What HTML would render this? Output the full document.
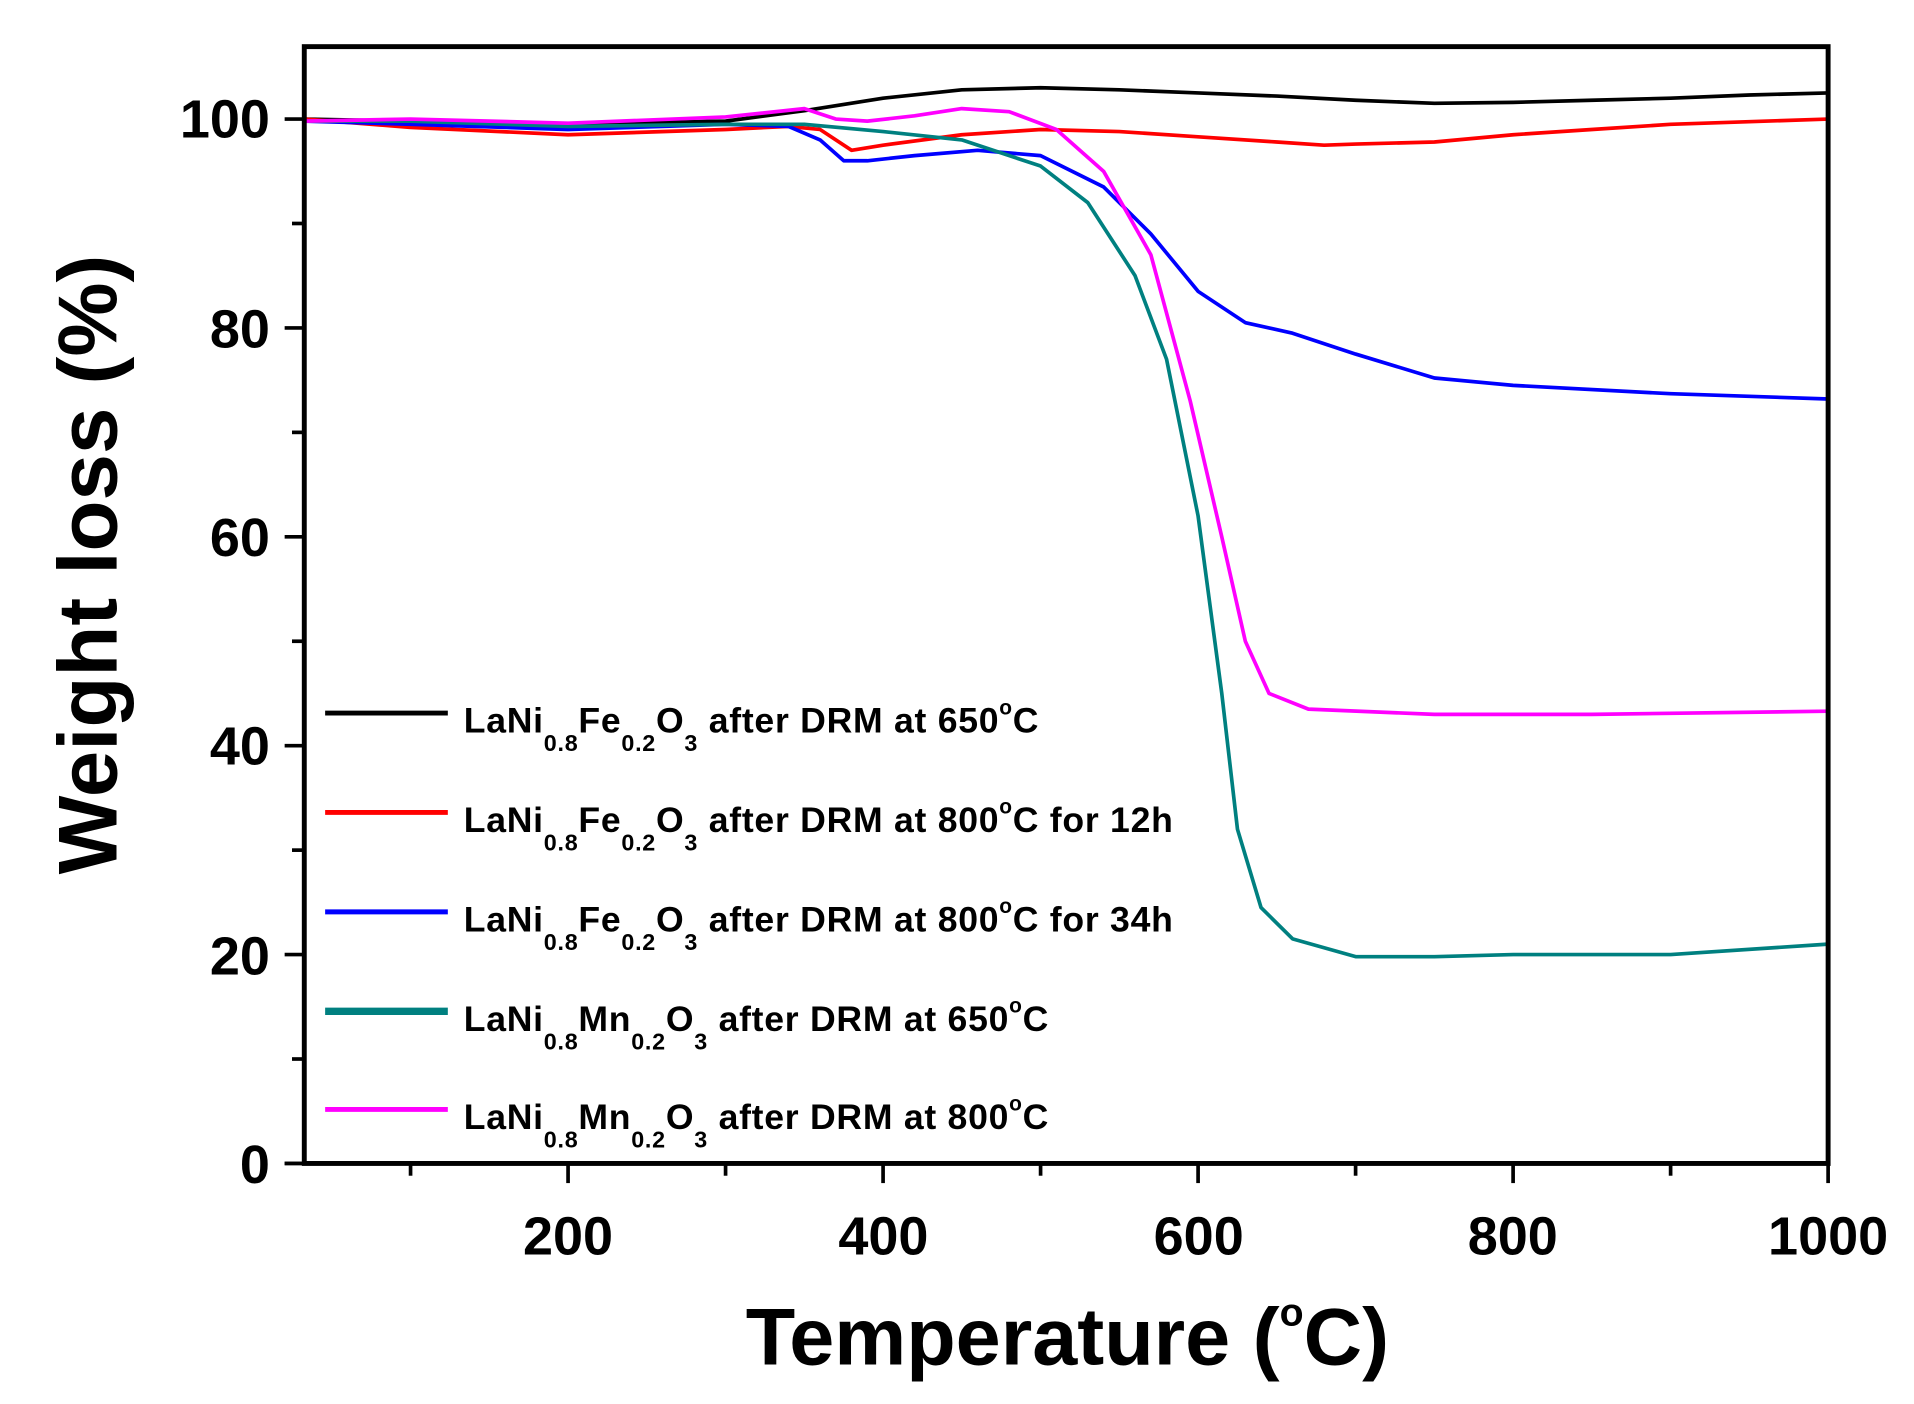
<!DOCTYPE html>
<html><head><meta charset="utf-8"><style>html,body{margin:0;padding:0;background:#fff}svg{display:block}</style></head>
<body>
<svg width="1914" height="1404" viewBox="0 0 1560 1144" preserveAspectRatio="none" xmlns="http://www.w3.org/2000/svg" font-family="Liberation Sans, sans-serif" font-weight="bold">
<rect width="1560" height="1144" fill="#fff"/>
<g id="curves" fill="none" stroke-width="3" stroke-linejoin="round"></g>
<rect x="248" y="38" width="1242" height="910" fill="none" stroke="#000" stroke-width="4"/>
<g id="ticks" stroke="#000" stroke-width="3"></g>
<g font-size="44" text-anchor="end">
<text x="220" y="112">100</text><text x="220" y="283">80</text><text x="220" y="453">60</text><text x="220" y="623">40</text><text x="220" y="794">20</text><text x="220" y="964">0</text>
</g>
<g font-size="44" text-anchor="middle">
<text x="463" y="1022">200</text><text x="720" y="1022">400</text><text x="977" y="1022">600</text><text x="1233" y="1022">800</text><text x="1490" y="1022">1000</text>
</g>
<text x="870" y="1112" font-size="66" text-anchor="middle">Temperature (<tspan font-size="32" dy="-32">o</tspan><tspan dy="32">C)</tspan></text>
<text transform="translate(95,460) rotate(-90)" font-size="68" text-anchor="middle">Weight loss (%)</text>
<g font-size="29" letter-spacing="0.6">
<line x1="265" x2="365" y1="581" y2="581" stroke="#000" stroke-width="4"/>
<text x="378" y="597">LaNi<tspan font-size="19" dy="15">0.8</tspan><tspan dy="-15">Fe</tspan><tspan font-size="19" dy="15">0.2</tspan><tspan dy="-15">O</tspan><tspan font-size="19" dy="15">3</tspan><tspan dy="-15"> after DRM at 650</tspan><tspan font-size="17" dy="-15">o</tspan><tspan dy="15">C</tspan></text>
<line x1="265" x2="365" y1="662" y2="662" stroke="#f00" stroke-width="4"/>
<text x="378" y="678">LaNi<tspan font-size="19" dy="15">0.8</tspan><tspan dy="-15">Fe</tspan><tspan font-size="19" dy="15">0.2</tspan><tspan dy="-15">O</tspan><tspan font-size="19" dy="15">3</tspan><tspan dy="-15"> after DRM at 800</tspan><tspan font-size="17" dy="-15">o</tspan><tspan dy="15">C for 12h</tspan></text>
<line x1="265" x2="365" y1="743" y2="743" stroke="#00f" stroke-width="4"/>
<text x="378" y="759">LaNi<tspan font-size="19" dy="15">0.8</tspan><tspan dy="-15">Fe</tspan><tspan font-size="19" dy="15">0.2</tspan><tspan dy="-15">O</tspan><tspan font-size="19" dy="15">3</tspan><tspan dy="-15"> after DRM at 800</tspan><tspan font-size="17" dy="-15">o</tspan><tspan dy="15">C for 34h</tspan></text>
<line x1="265" x2="365" y1="824" y2="824" stroke="#008080" stroke-width="6"/>
<text x="378" y="840">LaNi<tspan font-size="19" dy="15">0.8</tspan><tspan dy="-15">Mn</tspan><tspan font-size="19" dy="15">0.2</tspan><tspan dy="-15">O</tspan><tspan font-size="19" dy="15">3</tspan><tspan dy="-15"> after DRM at 650</tspan><tspan font-size="17" dy="-15">o</tspan><tspan dy="15">C</tspan></text>
<line x1="265" x2="365" y1="904" y2="904" stroke="#f0f" stroke-width="4"/>
<text x="378" y="920">LaNi<tspan font-size="19" dy="15">0.8</tspan><tspan dy="-15">Mn</tspan><tspan font-size="19" dy="15">0.2</tspan><tspan dy="-15">O</tspan><tspan font-size="19" dy="15">3</tspan><tspan dy="-15"> after DRM at 800</tspan><tspan font-size="17" dy="-15">o</tspan><tspan dy="15">C</tspan></text>
</g>
<script>
const X=t=>463+(t-200)*1.28375, Y=v=>948-v*8.51;
const S=[
["#000",[[33,100],[100,99.8],[200,99.5],[300,99.8],[350,100.8],[400,102],[450,102.8],[500,103],[550,102.8],[600,102.5],[650,102.2],[700,101.8],[750,101.5],[800,101.6],[850,101.8],[900,102],[950,102.3],[1000,102.5]]],
["#f00",[[33,100],[100,99.2],[200,98.5],[300,99],[340,99.3],[360,99],[380,97],[400,97.5],[450,98.5],[500,99],[550,98.8],[600,98.3],[650,97.8],[680,97.5],[700,97.6],[750,97.8],[800,98.5],[850,99],[900,99.5],[1000,100]]],
["#00f",[[33,99.8],[100,99.5],[200,99],[300,99.5],[340,99.3],[360,98],[375,96],[390,96],[420,96.5],[460,97],[500,96.5],[540,93.5],[570,89],[600,83.5],[630,80.5],[660,79.5],[700,77.5],[750,75.2],[800,74.5],[900,73.7],[1000,73.2]]],
["#008080",[[33,99.8],[100,99.8],[200,99.3],[300,99.5],[350,99.5],[400,98.8],[450,98],[500,95.5],[530,92],[560,85],[580,77],[600,62],[615,45],[625,32],[640,24.5],[660,21.5],[700,19.8],[750,19.8],[800,20],[900,20],[1000,21]]],
["#f0f",[[33,99.8],[100,100],[200,99.6],[300,100.2],[350,101],[370,100],[390,99.8],[420,100.3],[450,101],[480,100.7],[510,99],[540,95],[570,87],[595,73],[615,60],[630,50],[645,45],[670,43.5],[750,43],[850,43],[1000,43.3]]]];
const ns="http://www.w3.org/2000/svg";
const g=document.getElementById('curves');
S.forEach(([c,p])=>{const e=document.createElementNS(ns,'polyline');e.setAttribute('points',p.map(q=>X(q[0]).toFixed(1)+','+Y(q[1]).toFixed(1)).join(' '));e.setAttribute('stroke',c);g.appendChild(e);});
const tk=document.getElementById('ticks');
function L(x1,y1,x2,y2){const e=document.createElementNS(ns,'line');e.setAttribute('x1',x1);e.setAttribute('y1',y1);e.setAttribute('x2',x2);e.setAttribute('y2',y2);tk.appendChild(e);}
for(let v=0;v<=100;v+=10)L(v%20?238:232,Y(v),248,Y(v));
for(let t=100;t<=1000;t+=100)L(X(t),948,X(t),t%200?958:964);
L(232,948,248,948);
</script>
</svg>
</body></html>
